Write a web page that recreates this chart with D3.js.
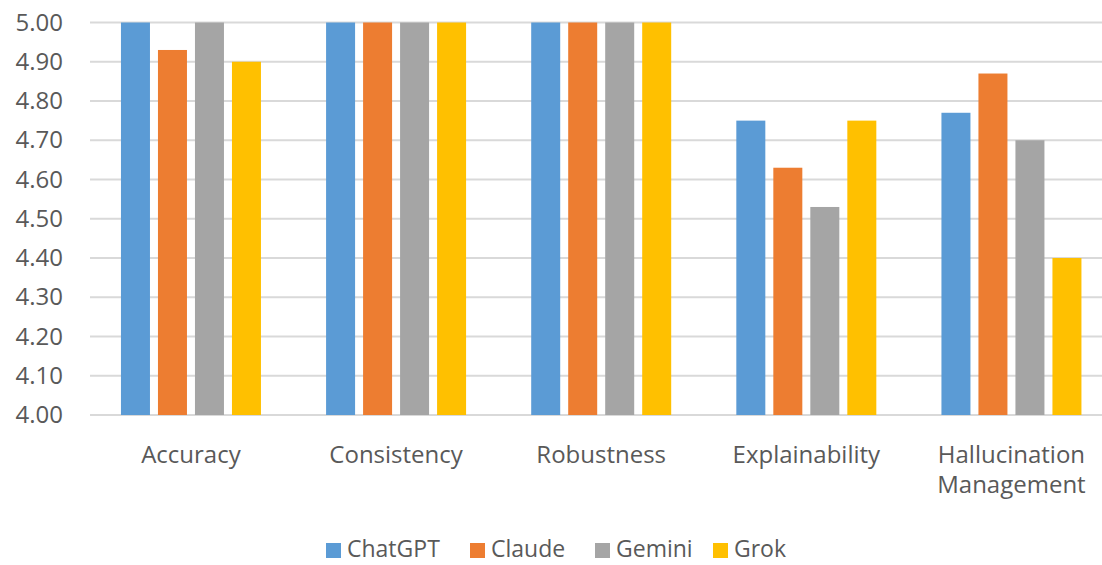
<!DOCTYPE html>
<html>
<head>
<meta charset="utf-8">
<script src="https://cdn.jsdelivr.net/npm/d3@7"></script>
<style>
  body { margin: 0; background: #fff; }
  svg { display: block; font-family: 'Open Sans', 'Noto Sans', sans-serif; }
</style>
</head>
<body>
<div id="chart"></div>
<script>
// Chart data
const categories = ['Accuracy', 'Consistency', 'Robustness', 'Explainability', 'Hallucination Management'];
const series = ['ChatGPT', 'Claude', 'Gemini', 'Grok'];
const colors = ['#5B9BD5', '#ED7D31', '#A5A5A5', '#FFC000'];
const chatgpt = [5.00, 5.00, 5.00, 4.75, 4.77];
const claude = [4.93, 5.00, 5.00, 4.63, 4.87];
const gemini = [5.00, 5.00, 5.00, 4.53, 4.70];
const grok = [4.90, 5.00, 5.00, 4.75, 4.40];
const yTicks = [4.0, 4.1, 4.2, 4.3, 4.4, 4.5, 4.6, 4.7, 4.8, 4.9, 5.0];

const values = [chatgpt, claude, gemini, grok];

let svgWidth = 1102;
let svgHeight = 565;

let svg = d3.select('#chart')
  .append('svg')
  .attr('width', svgWidth)
  .attr('height', svgHeight);

// Scales
let x0 = d3.scaleBand()
  .domain(categories)
  .range([88.4, 1114])
  .padding(0);

let x1 = d3.scaleBand()
  .domain(series)
  .range([-70, 70])
  .paddingInner(8 / 37)
  .paddingOuter(0);

let y = d3.scaleLinear()
  .domain([4, 5])
  .range([415, 22.5]);

// Gridlines
svg.append('g')
  .selectAll('line')
  .data(yTicks)
  .enter()
  .append('line')
  .attr('x1', 90)
  .attr('x2', svgWidth)
  .attr('y1', d => y(d))
  .attr('y2', d => y(d))
  .attr('stroke', '#d9d9d9')
  .attr('stroke-width', 2);

// Y axis labels
let leftAxis = d3.axisLeft(y)
  .tickValues(yTicks)
  .tickFormat(d3.format('.2f'))
  .tickSize(0)
  .tickPadding(0);

let yAxis = svg.append('g')
  .attr('transform', 'translate(63,0)')
  .call(leftAxis);
yAxis.select('.domain').remove();
yAxis.selectAll('text')
  .attr('font-family', "'Open Sans', 'Noto Sans', sans-serif")
  .attr('font-size', '24px')
  .attr('fill', '#595959');

// Bars
series.forEach((s, i) => {
  svg.append('g')
    .selectAll('rect')
    .data(categories)
    .enter()
    .append('rect')
    .attr('x', (c) => x0(c) + x0.bandwidth() / 2 + x1(s))
    .attr('width', x1.bandwidth())
    .attr('y', (c, j) => y(values[i][j]))
    .attr('height', (c, j) => y(4) - y(values[i][j]))
    .attr('fill', colors[i]);
});

// Category labels
let catLabels = svg.append('g')
  .selectAll('text')
  .data(categories)
  .enter()
  .append('text')
  .attr('text-anchor', 'middle')
  .attr('font-size', '24px')
  .attr('fill', '#595959')
  .attr('transform', c => `translate(${x0(c) + x0.bandwidth() / 2}, 463)`);

catLabels.each(function(c) {
  let words = c === 'Hallucination Management' ? ['Hallucination', 'Management'] : [c];
  d3.select(this).selectAll('tspan')
    .data(words)
    .enter()
    .append('tspan')
    .attr('x', 0)
    .attr('dy', (w, k) => k === 0 ? 0 : 30)
    .text(w => w);
});

// Legend
let legendX = [326, 470, 595, 713];
let legend = svg.append('g');
series.forEach((s, i) => {
  legend.append('rect')
    .attr('x', legendX[i])
    .attr('y', 543)
    .attr('width', 15)
    .attr('height', 15)
    .attr('fill', colors[i]);
  legend.append('text')
    .attr('x', legendX[i] + 21)
    .attr('y', 557)
    .attr('font-size', '23px')
    .attr('fill', '#595959')
    .text(s);
});
</script>
</body>
</html>
